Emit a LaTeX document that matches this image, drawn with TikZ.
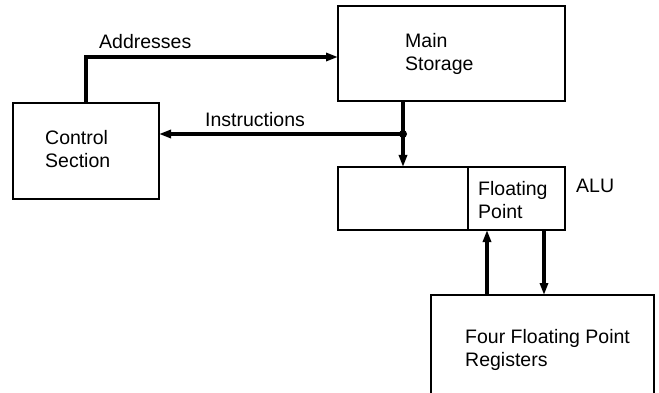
\documentclass[tikz,border=0pt]{standalone}
\usepackage{fontspec}
\setmainfont{Liberation Sans}
\usetikzlibrary{arrows.meta,positioning}
\tikzset{
  box/.style={draw, line width=1.6pt, inner sep=0pt, outer sep=0pt},
  lbl/.style={inner sep=0pt, align=left},
  flow/.style={line width=3.3pt, -{Triangle[length=12pt,width=8pt]}},
}
\begin{document}
\begin{tikzpicture}[x=1pt, y=-1pt, font=\fontsize{19.5}{23.5}\selectfont]
\path[use as bounding box, clip] (0,0) rectangle (659,393);
% boxes
\node[box, minimum width=146pt, minimum height=96pt] (ctrl) at (86,151) {};
\node[box, minimum width=227pt, minimum height=95pt] (main) at (451.5,53.5) {};
\node[box, minimum width=130pt, minimum height=63pt, below right=66pt and 0pt of main.south west] (alu) {};
\node[box, minimum width=97pt, minimum height=63pt, right=0pt of alu] (fp) {};
\node[box, minimum width=223pt, minimum height=140pt] (regs) at (542.5,365) {};
% texts
\node[lbl, below right=27pt and 32pt of ctrl.north west] (ctrltext) {Control\\Section};
\node[lbl, below right=27pt and 67pt of main.north west] (maintext) {Main\\Storage};
\node[lbl, below right=14pt and 10pt of fp.north west] (fptext) {Floating\\Point};
\node[lbl, below right=12pt and 11pt of fp.north east] (alutext) {ALU};
\node[lbl, below right=34pt and 34pt of regs.north west] (regstext) {Four Floating Point\\Registers};
% connectors
\coordinate (adr) at ([yshift=-3.5pt]main.west);
\coordinate (bend) at (ctrl.north |- adr);
\draw[flow] (ctrl.north) |- (adr);
\node[lbl, above right=8pt and 13pt of bend] (adrtext) {Addresses};
\coordinate (j) at ([yshift=33pt]alu.north);
\coordinate (instr) at (j -| ctrl.east);
\draw[flow] (main.south -| alu.north) -- (alu.north);
\draw[flow] (j) -- (instr);
\fill (j) circle (4pt);
\node[lbl, above right=7pt and 46pt of instr] (instrtext) {Instructions};
\coordinate (upx) at ([xshift=-29.5pt]fp.south);
\coordinate (dnx) at ([xshift=27.5pt]fp.south);
\draw[flow] (upx |- regs.north) -- (upx);
\draw[flow] (dnx) -- (dnx |- regs.north);
\end{tikzpicture}
\end{document}
